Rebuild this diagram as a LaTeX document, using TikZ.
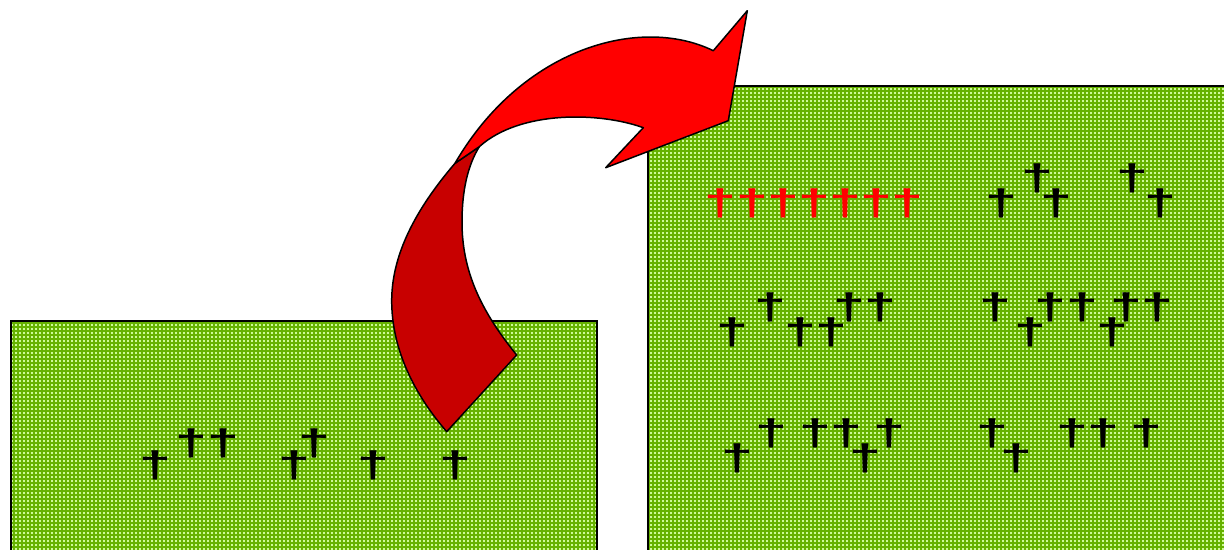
\documentclass[tikz,border=0pt]{standalone}
\usepackage{fontspec}
\usepackage{graphicx}
\usepackage{tikz}
\usetikzlibrary{patterns.meta}
\newfontfamily\dagfont{Liberation Sans}
\definecolor{grassgreen}{RGB}{102,178,0}
\definecolor{dotgreen}{RGB}{205,250,150}
\definecolor{arrowred}{RGB}{255,0,0}
\definecolor{arrowdark}{RGB}{200,0,0}
\tikzdeclarepattern{
  name=grassdots,
  type=uncolored,
  bounding box={(0pt,0pt) and (2.27pt,2.27pt)},
  tile size={(2.27pt,2.27pt)},
  code={\fill (0pt,0pt) rectangle (1.05pt,1.05pt);}
}
\newcommand{\cross}{\scalebox{1.55}[1]{†}}

\begin{document}
\begin{tikzpicture}[
    x=0.02cm, y=-0.02cm,
    fieldbox/.style={draw=black, line width=1.1pt,
                     preaction={fill=grassgreen},
                     pattern=grassdots, pattern color=dotgreen},
    dag/.style={inner sep=0pt, text=black,
                font=\dagfont\bfseries\fontsize{21}{21}\selectfont},
    reddag/.style={dag, text=red},
    arwfront/.style={draw=black, line width=0.85pt, fill=arrowred, line join=round},
    arwback/.style={draw=black, line width=0.85pt, fill=arrowdark, line join=round}
  ]
    \useasboundingbox (0,0) rectangle (1224,550);

    % the two fields
    \path[fieldbox] (11,321) rectangle (597,570);
    \path[fieldbox] (648,86) rectangle (1240,570);

    % left field
    \foreach \x/\y [count=\i] in {155/465, 191.7/443, 223.3/443, 294/465,
                                  314/443, 373.3/465, 455/465}
      \node[dag] (left\i) at (\x,\y) {\cross};

    % right field, first row
    \foreach \x [count=\i] in {720.7,752.3,783.3,814.3,845.7,876.7,907.7}
      \node[reddag] (red\i) at (\x,203.7) {\cross};
    \foreach \x/\y [count=\i] in {1001/203.7, 1037.3/178.7, 1056.3/203.7,
                                  1132.3/178.7, 1160/203.7}
      \node[dag] (rowa\i) at (\x,\y) {\cross};

    % second row
    \foreach \x/\y [count=\i] in {732.7/332, 770/307, 800/332, 831/332,
                                  849.3/307, 880.3/307, 995.7/307, 1030/332,
                                  1050.7/307, 1082/307, 1112.3/332, 1126/307,
                                  1157.3/307}
      \node[dag] (rowb\i) at (\x,\y) {\cross};

    % third row
    \foreach \x/\y [count=\i] in {737.7/458.7, 771.7/433.7, 815.3/433.7,
                                  846/433.7, 865/458.7, 889.3/433.7,
                                  992.3/433.7, 1016.7/458.7, 1072/433.7,
                                  1103/433.7, 1146.7/433.7}
      \node[dag] (rowc\i) at (\x,\y) {\cross};

    % curved arrow, back side
    \path[arwback] (455,163.3)
      .. controls (415,210) and (392,255) .. (391.7,300)
      .. controls (391.5,350) and (415,395) .. (446.7,431.7)
      -- (516.7,355)
      .. controls (480,310) and (462,270) .. (462,222)
      .. controls (462,190) and (468,165) .. (479.3,146.7)
      -- cycle;

    % curved arrow, front side with head
    \path[arwfront] (455,163.3)
      .. controls (522,48) and (640,15) .. (713.3,50.7)
      -- (747.3,10.7) -- (728.3,120.7) -- (605.7,167.7) -- (643.3,127.7)
      .. controls (600,112) and (520,110) .. (479.3,146.7)
      -- cycle;
  \end{tikzpicture}
\end{document}
